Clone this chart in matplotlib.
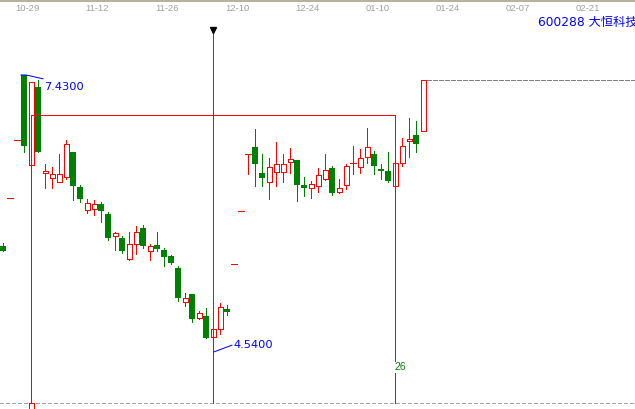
import matplotlib
matplotlib.use("Agg")
import matplotlib.pyplot as plt
from matplotlib.patches import Rectangle

# daily bars, one per trading day (index = bar number)
opens = [5.65, 6.15, 6.75, 7.43, 6.49, 7.30, 6.41, 6.36, 6.31, 6.37,
         6.63, 6.26, 6.02, 6.03, 6.08, 5.98, 5.75, 5.73, 5.51, 5.67,
         5.83, 5.59, 5.66, 5.60, 5.54, 5.42, 5.06, 5.14, 4.89, 4.91,
         4.70, 4.78, 4.99, 5.46, 6.01, 6.61, 6.68, 6.41, 6.31, 6.42,
         6.42, 6.52, 6.54, 6.28, 6.25, 6.27, 6.34, 6.46, 6.21, 6.28,
         6.51, 6.47, 6.57, 6.61, 6.45, 6.43, 6.27, 6.51, 6.74, 6.80,
         6.85]
highs = [5.68, 6.15, 6.75, 7.43, 7.36, 7.38, 6.50, 6.47, 6.61, 6.75,
         6.63, 6.28, 6.14, 6.13, 6.10, 6.00, 5.79, 5.75, 5.79, 5.85,
         5.86, 5.67, 5.79, 5.62, 5.55, 5.44, 5.15, 5.14, 4.97, 5.00,
         4.78, 5.05, 5.03, 5.46, 6.01, 6.61, 6.87, 6.61, 6.56, 6.73,
         6.61, 6.67, 6.54, 6.37, 6.32, 6.46, 6.61, 6.48, 6.34, 6.50,
         6.69, 6.66, 6.88, 6.64, 6.50, 6.63, 6.51, 6.77, 6.98, 6.95,
         7.38]
lows = [5.59, 6.15, 6.75, 6.63, 6.49, 6.63, 6.25, 6.25, 6.31, 6.34,
        6.13, 6.10, 5.99, 5.97, 5.90, 5.71, 5.60, 5.57, 5.50, 5.56,
        5.62, 5.50, 5.59, 5.44, 5.46, 5.07, 5.02, 4.85, 4.88, 4.69,
        4.54, 4.73, 4.93, 5.46, 6.01, 6.40, 6.27, 6.27, 6.14, 6.27,
        6.31, 6.41, 6.12, 6.17, 6.15, 6.21, 6.33, 6.18, 6.20, 6.24,
        6.40, 6.41, 6.51, 6.40, 6.34, 6.31, 6.27, 6.48, 6.57, 6.63,
        6.85]
closes = [5.59, 6.15, 6.75, 6.69, 7.36, 6.63, 6.43, 6.40, 6.40, 6.71,
          6.27, 6.14, 6.09, 6.08, 6.01, 5.73, 5.78, 5.59, 5.67, 5.79,
          5.65, 5.65, 5.61, 5.53, 5.47, 5.10, 5.10, 4.88, 4.95, 4.69,
          4.78, 5.01, 4.96, 5.46, 6.01, 6.61, 6.50, 6.36, 6.47, 6.50,
          6.50, 6.55, 6.28, 6.25, 6.29, 6.39, 6.44, 6.20, 6.25, 6.48,
          6.51, 6.56, 6.68, 6.48, 6.43, 6.32, 6.51, 6.69, 6.76, 6.71,
          7.38]

date_labels = ["10-29", "11-12", "11-26", "12-10", "12-24",
               "01-10", "01-24", "02-07", "02-21"]
date_pos = [3.5, 13.5, 23.5, 33.5, 43.5, 53.5, 63.5, 73.5, 83.5]

high_price = 7.43
low_price = 4.54
high_bar = 3
low_bar = 30
cycle_bars = [4, 30, 56]   # time-cycle markers, 26 bars apart
cycle_level = 7.01
last_close = 7.38
base_level = 4.006

RED = "#ff0000"
GREEN = "#008000"
BLUE = "#0000ff"
PX = 0.72  # one pixel at 100 dpi
AA = dict(antialiased=False)

fig = plt.figure(figsize=(6.35, 4.09), dpi=100)
fig.patch.set_facecolor("white")

# ---- header strip with dates
hd = fig.add_axes([0, 1 - 14 / 409, 1, 14 / 409])
hd.set_xlim(-3 / 7, 632 / 7)
hd.set_ylim(0, 1)
hd.axis("off")
hd.axhline(0.02, color="#c8c8c8", lw=PX, **AA)
hd.axhline(0.96, color="#b8b0a0", lw=2 * PX, **AA)
for pos, lab in zip(date_pos, date_labels):
    hd.text(pos, 0.42, lab, ha="center", va="center", color="#a0a0a0",
            fontsize=6.8, family="Liberation Sans")

# ---- price area
ax = fig.add_axes([0, 0, 1, 394 / 409])
ax.set_xlim(-3 / 7, 632 / 7)
ax.set_ylim(3.944, 8.056)
ax.axis("off")

w_fill = 6 / 7
w_hol = 5 / 7
for i, (o, h, l, c) in enumerate(zip(opens, highs, lows, closes)):
    if c < o:
        ax.vlines(i, l, h, color=GREEN, lw=PX, zorder=2, **AA)
        ax.add_patch(Rectangle((i - w_fill / 2, c), w_fill, o - c,
                               facecolor=GREEN, edgecolor="none", zorder=3,
                               **AA))
    elif c == o:
        ax.vlines(i, l, h, color=RED, lw=PX, zorder=2, **AA)
        ax.hlines(c, i - 0.43, i + 0.43, color=RED, lw=PX, zorder=3, **AA)
    else:
        if h > c:
            ax.vlines(i, c, h, color=RED, lw=PX, zorder=2, **AA)
        if l < o:
            ax.vlines(i, l, o, color=RED, lw=PX, zorder=2, **AA)
        ax.add_patch(Rectangle((i - w_hol / 2, o), w_hol, c - o,
                               facecolor="white", edgecolor=RED, lw=PX,
                               joinstyle="miter", zorder=3, **AA))

# reference lines
ax.hlines(last_close, 60.6, 90.3, color="#808080", lw=PX,
          linestyles=(0, (4.7, 1.7)), zorder=1, **AA)
ax.axhline(base_level, color="#a0a0a0", lw=PX, ls=(0, (3.3, 2.7)), zorder=1,
           **AA)

# time-cycle tool
ax.hlines(cycle_level, cycle_bars[0], cycle_bars[2], color=RED, lw=PX,
          zorder=4, **AA)
ax.vlines(cycle_bars[0], base_level, cycle_level, color=RED, lw=PX, zorder=4,
          **AA)
ax.vlines(cycle_bars[1], base_level, 7.88, color=RED, lw=PX, zorder=4, **AA)
ax.vlines(cycle_bars[2], base_level, cycle_level, color=RED, lw=PX, zorder=4,
          **AA)
ax.plot(cycle_bars[1], 7.895, marker="v", color="black", markersize=4.5,
        zorder=5)
ax.add_patch(Rectangle((cycle_bars[0] - w_hol / 2, 3.85), w_hol,
                       base_level - 3.85, facecolor="white", edgecolor=RED,
                       lw=PX, joinstyle="miter", zorder=4, **AA))
ax.text(55.93, 4.382, str(cycle_bars[2] - cycle_bars[1]), color=GREEN,
        fontsize=7.5, family="Liberation Sans", ha="left", va="center",
        zorder=6, bbox=dict(facecolor="white", edgecolor="none", pad=0.4))

# high / low marks
ax.plot([high_bar - 0.43, high_bar + 0.29, high_bar + 2.71],
        [high_price, high_price, 7.39], color=BLUE, lw=PX, zorder=5)
ax.text(high_bar + 2.86, 7.305, f"{high_price:.4f}", color=BLUE,
        fontsize=8.2, ha="left", va="center")
ax.plot([low_bar + 0.14, low_bar + 2.7], [low_price, 4.61], color=BLUE,
        lw=PX, zorder=5)
ax.text(low_bar + 2.86, 4.61, f"{low_price:.4f}", color=BLUE,
        fontsize=8.2, ha="left", va="center")

fig.text(538 / 635, 1 - 22 / 409, "600288 大恒科技", color=BLUE,
         fontsize=8.8, family=["DejaVu Sans", "Noto Sans CJK SC"],
         ha="left", va="center")

fig.savefig("out.png", dpi=100, facecolor="white")
